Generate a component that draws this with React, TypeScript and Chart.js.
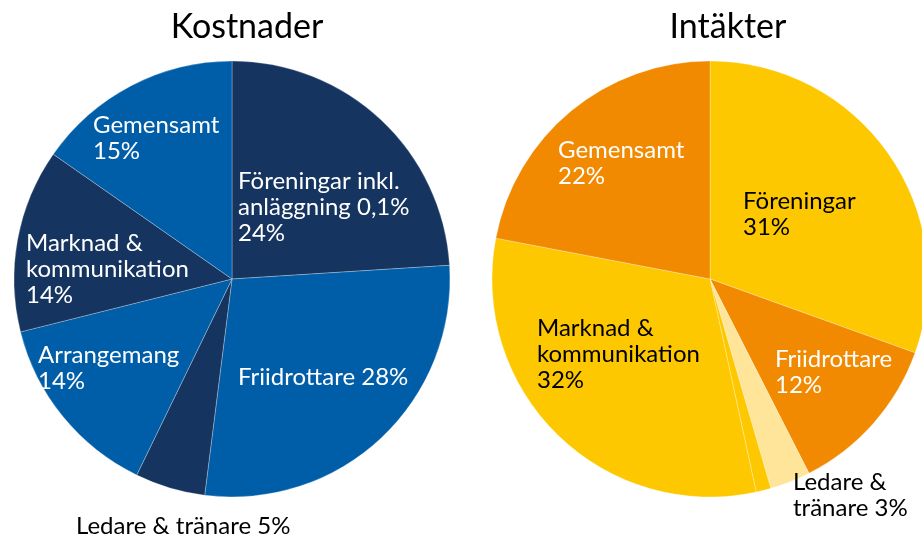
import React, { useEffect, useRef } from "react";
import { Chart, registerables } from "chart.js";

Chart.register(...registerables);

// ---- Data ----
const costLabels = [
  "Föreningar inkl. anläggning 0,1%",
  "Friidrottare",
  "Ledare & tränare",
  "Arrangemang",
  "Marknad & kommunikation",
  "Gemensamt",
];
const costValues = [24.0, 28.0, 5.2, 13.9, 13.6, 15.3];
const costText = [
  ["Föreningar inkl.", "anläggning 0,1%", "24%"],
  ["Friidrottare 28%"],
  ["Ledare & tränare 5%"],
  ["Arrangemang", "14%"],
  ["Marknad &", "kommunikation", "14%"],
  ["Gemensamt", "15%"],
];

const incomeLabels = [
  "Föreningar",
  "Friidrottare",
  "Ledare & tränare",
  "Övrigt",
  "Marknad & kommunikation",
  "Gemensamt",
];
const incomeValues = [30.5, 12.0, 3.0, 1.1, 31.4, 22.0];
const incomeText = [
  ["Föreningar", "31%"],
  ["Friidrottare", "12%"],
  ["Ledare &", "tränare 3%"],
  [],
  ["Marknad &", "kommunikation", "32%"],
  ["Gemensamt", "22%"],
];

// ---- Styles / layout ----
const NAVY = "#15345F";
const BLUE = "#005DA8";
const ORANGE = "#F18A00";
const YELLOW = "#FDC800";
const LIGHT = "#FFE599";
const FONT = "Lato, 'Noto Sans', sans-serif";
const RADIUS = 218;
const LINE_H = 26;

const costColors = [NAVY, BLUE, NAVY, BLUE, NAVY, BLUE];
const costTextColors = ["#fff", "#fff", "#000", "#fff", "#fff", "#fff"];
// label anchor offsets (first-line baseline) relative to pie center
const costOffsets = [
  [6, -90],
  [6, 106],
  [-156, 255],
  [-194, 84],
  [-206, -28],
  [-139, -146],
];

const incomeColors = [YELLOW, ORANGE, LIGHT, YELLOW, YELLOW, ORANGE];
const incomeTextColors = ["#000", "#fff", "#000", "#000", "#000", "#fff"];
const incomeOffsets = [
  [33, -70],
  [65, 88],
  [83, 211],
  [0, 0],
  [-173, 57],
  [-152, -121],
];

type PieProps = {
  title: string;
  labels: string[];
  values: number[];
  colors: string[];
  text: string[][];
  textColors: string[];
  offsets: number[][];
  titleDx: number;
  left: number;
  width: number;
  centerX: number;
};

const CENTER_Y = 279;
const H = 537;

function Pie(p: PieProps) {
  const ref = useRef<HTMLCanvasElement>(null);
  useEffect(() => {
    const labelPlugin = {
      id: "labels" + p.title,
      afterDraw(chart: any) {
        const ctx = chart.ctx as CanvasRenderingContext2D;
        const ca = chart.chartArea;
        const cx = (ca.left + ca.right) / 2;
        const cy = (ca.top + ca.bottom) / 2;
        ctx.save();
        ctx.textAlign = "left";
        ctx.textBaseline = "alphabetic";
        ctx.font = `24px ${FONT}`;
        p.text.forEach((lines, i) => {
          ctx.fillStyle = p.textColors[i];
          lines.forEach((ln, j) => {
            ctx.fillText(ln, cx + p.offsets[i][0], cy + p.offsets[i][1] + j * LINE_H);
          });
        });
        ctx.font = `34px ${FONT}`;
        ctx.fillStyle = "#000";
        ctx.textAlign = "center";
        ctx.fillText(p.title, cx + p.titleDx, 38);
        ctx.restore();
      },
    };
    const padLeft = p.centerX - RADIUS;
    const padRight = p.width - p.centerX - RADIUS;
    const chart = new Chart(ref.current!, {
      type: "pie",
      data: {
        labels: p.labels,
        datasets: [
          {
            data: p.values,
            backgroundColor: p.colors,
            borderColor: "rgba(255,255,255,0.35)",
            borderWidth: 0.8,
          },
        ],
      },
      options: {
        animation: false,
        responsive: false,
        radius: RADIUS,
        layout: {
          padding: {
            left: padLeft,
            right: padRight,
            top: CENTER_Y - RADIUS,
            bottom: H - CENTER_Y - RADIUS,
          },
        },
        plugins: {
          legend: { display: false },
          tooltip: { enabled: false },
          title: { display: false },
        },
      } as any,
      plugins: [labelPlugin],
    });
    return () => chart.destroy();
  }, []);
  return (
    <canvas
      ref={ref}
      width={p.width}
      height={H}
      style={{ position: "absolute", left: p.left, top: 0, width: p.width, height: H }}
    />
  );
}

export default function App() {
  return (
    <div
      style={{
        position: "fixed",
        left: 0,
        top: 0,
        width: 922,
        height: 537,
        overflow: "hidden",
        background: "#fff",
      }}
    >
      <Pie
        title="Kostnader"
        labels={costLabels}
        values={costValues}
        colors={costColors}
        text={costText}
        textColors={costTextColors}
        offsets={costOffsets}
        titleDx={15}
        left={0}
        width={464}
        centerX={232}
      />
      <Pie
        title="Intäkter"
        labels={incomeLabels}
        values={incomeValues}
        colors={incomeColors}
        text={incomeText}
        textColors={incomeTextColors}
        offsets={incomeOffsets}
        titleDx={18}
        left={464}
        width={500}
        centerX={246}
      />
    </div>
  );
}
